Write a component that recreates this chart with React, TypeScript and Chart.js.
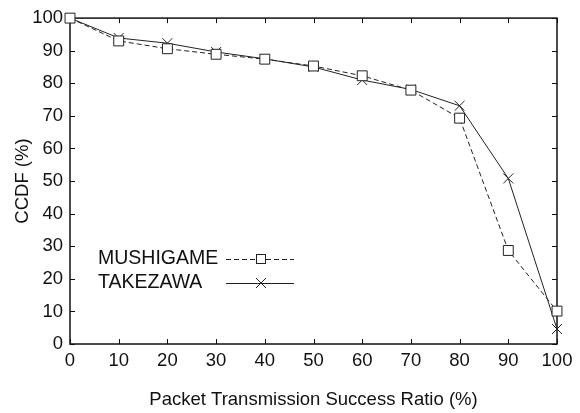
import React, { useEffect, useRef } from "react";
import { Chart, registerables } from "chart.js";

Chart.register(...registerables);

const xValues = [0, 10, 20, 30, 40, 50, 60, 70, 80, 90, 100];
const mushigame = [100, 93, 90.6, 88.9, 87.4, 85.3, 82.3, 77.9, 69.3, 28.7, 10.1];
const takezawa = [100, 93.9, 92.3, 89.6, 87.5, 85.0, 81.0, 78.1, 73.1, 50.8, 4.6];
const seriesNames = ["MUSHIGAME", "TAKEZAWA"];
const xTitle = "Packet Transmission Success Ratio (%)";
const yTitle = "CCDF (%)";
const axisMin = 0;
const axisMax = 100;
const axisStep = 10;

const FONT = "'Liberation Sans', Arial, Helvetica, sans-serif";
const INK = "#111";

const framePlugin = {
  id: "frameTicks",
  beforeDatasetsDraw(chart: any) {
    const { ctx, chartArea } = chart;
    const { left, right, top, bottom } = chartArea;
    const xs = chart.scales.x;
    const ys = chart.scales.y;
    const tl = 5;
    ctx.save();
    ctx.strokeStyle = INK;
    ctx.lineWidth = 1.5;
    ctx.strokeRect(left, top, right - left, bottom - top);
    ctx.lineWidth = 1;
    ctx.beginPath();
    xs.ticks.forEach((t: any) => {
      const px = Math.round(xs.getPixelForValue(t.value)) + 0.5;
      ctx.moveTo(px, bottom);
      ctx.lineTo(px, bottom - tl);
      ctx.moveTo(px, top);
      ctx.lineTo(px, top + tl);
    });
    ys.ticks.forEach((t: any) => {
      const py = Math.round(ys.getPixelForValue(t.value)) + 0.5;
      ctx.moveTo(left, py);
      ctx.lineTo(left + tl, py);
      ctx.moveTo(right, py);
      ctx.lineTo(right - tl, py);
    });
    ctx.stroke();
    ctx.restore();
  },
  afterDatasetsDraw(chart: any) {
    const { ctx } = chart;
    const rows = [259, 283];
    ctx.save();
    chart.data.datasets.forEach((ds: any, i: number) => {
      const y = rows[i];
      ctx.fillStyle = INK;
      ctx.font = `19.5px ${FONT}`;
      ctx.textAlign = "left";
      ctx.textBaseline = "middle";
      ctx.fillText(ds.label, 98, y);
      ctx.strokeStyle = ds.borderColor;
      ctx.lineWidth = ds.borderWidth;
      ctx.setLineDash(ds.borderDash || []);
      ctx.beginPath();
      ctx.moveTo(226, y + 0.5);
      ctx.lineTo(294, y + 0.5);
      ctx.stroke();
      ctx.setLineDash([]);
      const mx = 261;
      if (ds.pointStyle === "rect") {
        const s = 5;
        ctx.fillStyle = "#fff";
        ctx.fillRect(mx - s, y - s, 2 * s, 2 * s);
        ctx.strokeRect(mx - s + 0.5, y - s + 0.5, 2 * s - 1, 2 * s - 1);
      } else {
        const s = 5;
        ctx.beginPath();
        ctx.moveTo(mx - s, y - s);
        ctx.lineTo(mx + s, y + s);
        ctx.moveTo(mx + s, y - s);
        ctx.lineTo(mx - s, y + s);
        ctx.stroke();
      }
    });
    ctx.restore();
  },
};

export default function App() {
  const ref = useRef<HTMLCanvasElement | null>(null);
  useEffect(() => {
    if (!ref.current) return;
    const toPts = (arr: number[]) => xValues.map((x, i) => ({ x, y: arr[i] }));
    const chart = new Chart(ref.current, {
      type: "line",
      data: {
        datasets: [
          {
            label: seriesNames[0],
            data: toPts(mushigame),
            borderColor: "#222",
            borderWidth: 1,
            borderDash: [5, 3],
            pointStyle: "rect",
            pointRadius: 7,
            pointBackgroundColor: "#fff",
            pointBorderColor: "#222",
            pointBorderWidth: 1,
            clip: false,
          } as any,
          {
            label: seriesNames[1],
            data: toPts(takezawa),
            borderColor: "#222",
            borderWidth: 1,
            pointStyle: "crossRot",
            pointRadius: 7,
            pointBorderColor: "#222",
            pointBorderWidth: 1,
            clip: false,
          } as any,
        ],
      },
      options: {
        responsive: false,
        animation: false,
        layout: { padding: { left: 0, right: 23, top: 17, bottom: 0 } },
        plugins: { legend: { display: false }, tooltip: { enabled: false } },
        scales: {
          x: {
            type: "linear",
            min: axisMin,
            max: axisMax,
            grid: { display: false, drawTicks: false },
            border: { display: false },
            ticks: { stepSize: axisStep, color: INK, font: { family: FONT, size: 18.5 }, padding: 6, maxRotation: 0 },
            title: { display: true, text: xTitle, color: INK, font: { family: FONT, size: 18.5 }, padding: { top: 0, bottom: 2 } },
            afterFit: (s: any) => { s.height = 69; },
          },
          y: {
            type: "linear",
            min: axisMin,
            max: axisMax,
            grid: { display: false, drawTicks: false },
            border: { display: false },
            ticks: { stepSize: axisStep, color: INK, font: { family: FONT, size: 18.5 }, padding: 7 },
            title: { display: true, text: yTitle, color: INK, font: { family: FONT, size: 18.5 }, padding: { top: 12, bottom: 0 } },
            afterFit: (s: any) => { s.width = 70; },
          },
        },
      },
      plugins: [framePlugin],
    });
    return () => chart.destroy();
  }, []);
  return (
    <div style={{ position: "fixed", left: 0, top: 0, width: 580, height: 413, background: "#fff" }}>
      <canvas ref={ref} width={580} height={413} />
    </div>
  );
}
